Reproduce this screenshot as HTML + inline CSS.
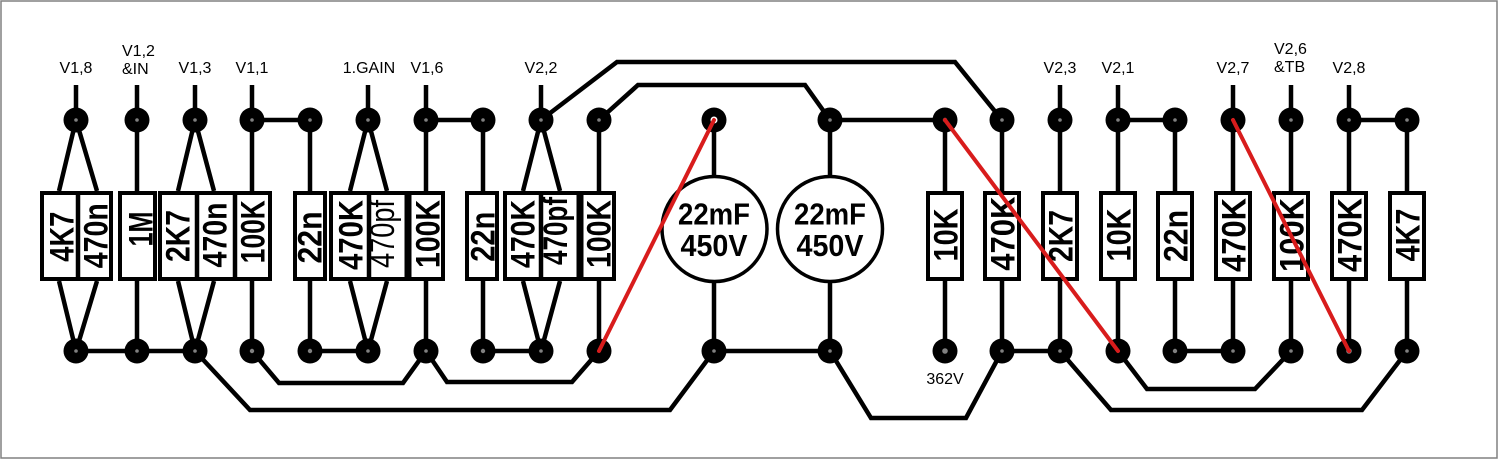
<!DOCTYPE html>
<html><head><meta charset="utf-8"><style>
html,body{margin:0;padding:0;background:#fff;}
svg{display:block;}
text{font-family:"Liberation Sans",Arial,sans-serif;}
.lb{font-size:16px;fill:#000;}
.rv{font-size:34px;font-weight:bold;fill:#000;}
.rr{font-size:34px;font-weight:normal;fill:#000;}
.cp{font-size:31px;font-weight:bold;fill:#000;}
</style></head><body>
<svg width="1500" height="459" viewBox="0 0 1500 459" xmlns="http://www.w3.org/2000/svg">
<rect x="0" y="0" width="1500" height="459" fill="#fff"/>
<rect x="1" y="1" width="1496" height="457" fill="none" stroke="#808080" stroke-width="1.5"/>

<g class="lb" text-anchor="middle">
<text x="76" y="73">V1,8</text>
<text x="195" y="73">V1,3</text>
<text x="252" y="73">V1,1</text>
<text x="369" y="73">1.GAIN</text>
<text x="427" y="73">V1,6</text>
<text x="541" y="73">V2,2</text>
<text x="1060" y="73">V2,3</text>
<text x="1118" y="73">V2,1</text>
<text x="1233" y="73">V2,7</text>
<text x="1349" y="73">V2,8</text>
</g>
<g class="lb">
<text x="122" y="56">V1,2</text>
<text x="122" y="74">&amp;IN</text>
<text x="1274" y="54">V2,6</text>
<text x="1274" y="72">&amp;TB</text>
</g>
<text class="lb" x="945" y="384" text-anchor="middle">362V</text>

<g stroke="#000" stroke-width="4.5" fill="none" stroke-linejoin="miter" stroke-linecap="butt">
<path d="M76 85V120M137 85V120M195 85V120M252 85V120M368 85V120M426 85V120M541 85V120M1060 85V120M1118 85V120M1233 85V120M1291 85V120M1349 85V120"/>
<path d="M137 120V191M252 120V191M310 120V191M426 120V191M483 120V191M599 120V191M945 120V191M1002 120V191M1060 120V191M1118 120V191M1175 120V191M1233 120V191M1291 120V191M1349 120V191M1407 120V191"/>
<path d="M137 281V351M252 281V351M310 281V351M426 281V351M483 281V351M599 281V351M945 281V351M1002 281V351M1060 281V351M1118 281V351M1175 281V351M1233 281V351M1291 281V351M1349 281V351M1407 281V351"/>
<path d="M76 120L59 191M76 120L97 191M195 120L178 191M195 120L214 191M368 120L350 191M368 120L387 191M541 120L523 191M541 120L560 191"/>
<path d="M76 351L59 281M76 351L97 281M195 351L178 281M195 351L214 281M368 351L350 281M368 351L387 281M541 351L523 281M541 351L560 281"/>
<path d="M714 120V175M830 120V175M714 283V351M830 283V351"/>
<path d="M252 120H310M426 120H483M830 120H945M1118 120H1175M1349 120H1407"/>
<path d="M76 351H195M310 351H368M483 351H541M714 351H830M1002 351H1060M1175 351H1233"/>
<polyline points="541,120 617,62 955,62 1002,120"/>
<polyline points="599,120 638,85 805,85 830,120"/>
<polyline points="195,351 250,410 670,410 714,351"/>
<polyline points="252,351 279,383 403,383 426,351"/>
<polyline points="426,351 447,382 572,382 599,351"/>
<polyline points="830,351 871,418 966,418 1002,351"/>
<polyline points="1060,351 1111,410 1362,410 1407,351"/>
<polyline points="1118,351 1147,389 1255,389 1291,351"/>
</g>

<g fill="#fff" stroke="#000" stroke-width="4">
<rect x="42" y="193" width="69" height="86"/>
<rect x="120" y="193" width="35" height="86"/>
<rect x="160" y="193" width="110" height="86"/>
<rect x="295" y="193" width="30" height="86"/>
<rect x="331" y="193" width="112" height="86"/>
<rect x="467" y="193" width="30" height="86"/>
<rect x="505" y="193" width="109" height="86"/>
<rect x="928" y="193" width="34" height="86"/>
<rect x="985" y="193" width="34" height="86"/>
<rect x="1043" y="193" width="34" height="86"/>
<rect x="1101" y="193" width="34" height="86"/>
<rect x="1158" y="193" width="34" height="86"/>
<rect x="1216" y="193" width="34" height="86"/>
<rect x="1274" y="193" width="34" height="86"/>
<rect x="1332" y="193" width="34" height="86"/>
<rect x="1390" y="193" width="34" height="86"/>
</g>
<g stroke="#000" fill="none">
<path stroke-width="4.5" d="M78 191V281M197 191V281M235 191V281M369 191V281M541 191V281"/>
<path stroke-width="7" d="M408 191V281M580 191V281"/>
</g>

<g class="rv" text-anchor="middle">
<text transform="translate(73.5,236.7) rotate(-90)" textLength="50" lengthAdjust="spacingAndGlyphs">4K7</text>
<text transform="translate(107.5,235.7) rotate(-90)" textLength="65" lengthAdjust="spacingAndGlyphs">470n</text>
<text transform="translate(152.5,229) rotate(-90)" textLength="35" lengthAdjust="spacingAndGlyphs">1M</text>
<text transform="translate(189.5,236) rotate(-90)" textLength="52" lengthAdjust="spacingAndGlyphs">2K7</text>
<text transform="translate(226.5,235) rotate(-90)" textLength="65" lengthAdjust="spacingAndGlyphs">470n</text>
<text transform="translate(264.5,231.7) rotate(-90)" textLength="63" lengthAdjust="spacingAndGlyphs">100K</text>
<text transform="translate(321.5,237.5) rotate(-90)" textLength="52" lengthAdjust="spacingAndGlyphs">22n</text>
<text transform="translate(362.5,235) rotate(-90)" textLength="70" lengthAdjust="spacingAndGlyphs">470K</text>
<text transform="translate(439.5,234) rotate(-90)" textLength="68" lengthAdjust="spacingAndGlyphs">100K</text>
<text transform="translate(494.5,236.7) rotate(-90)" textLength="50" lengthAdjust="spacingAndGlyphs">22n</text>
<text transform="translate(534.5,234) rotate(-90)" textLength="68" lengthAdjust="spacingAndGlyphs">470K</text>
<text transform="translate(567,231) rotate(-90)" textLength="68" lengthAdjust="spacingAndGlyphs">470pf</text>
<text transform="translate(610.5,234) rotate(-90)" textLength="68" lengthAdjust="spacingAndGlyphs">100K</text>
<text transform="translate(957.5,235) rotate(-90)" textLength="53" lengthAdjust="spacingAndGlyphs">10K</text>
<text transform="translate(1014.5,233.7) rotate(-90)" textLength="74" lengthAdjust="spacingAndGlyphs">470K</text>
<text transform="translate(1072.5,236) rotate(-90)" textLength="52" lengthAdjust="spacingAndGlyphs">2K7</text>
<text transform="translate(1130.5,235) rotate(-90)" textLength="53" lengthAdjust="spacingAndGlyphs">10K</text>
<text transform="translate(1187.5,236) rotate(-90)" textLength="52" lengthAdjust="spacingAndGlyphs">22n</text>
<text transform="translate(1245.5,235) rotate(-90)" textLength="74" lengthAdjust="spacingAndGlyphs">470K</text>
<text transform="translate(1303.5,235) rotate(-90)" textLength="74" lengthAdjust="spacingAndGlyphs">100K</text>
<text transform="translate(1361.5,235) rotate(-90)" textLength="74" lengthAdjust="spacingAndGlyphs">470K</text>
<text transform="translate(1419.5,235) rotate(-90)" textLength="53" lengthAdjust="spacingAndGlyphs">4K7</text>
</g>
<text class="rr" text-anchor="middle" transform="translate(394,234) rotate(-90)" textLength="68" lengthAdjust="spacingAndGlyphs">470pf</text>

<g fill="#fff" stroke="#000" stroke-width="3.5">
<circle cx="714.5" cy="229" r="52.5"/>
<circle cx="830" cy="229" r="52.5"/>
</g>
<g class="cp" text-anchor="middle">
<text x="714" y="224.5" textLength="72" lengthAdjust="spacingAndGlyphs">22mF</text>
<text x="714" y="256" textLength="67" lengthAdjust="spacingAndGlyphs">450V</text>
<text x="830" y="224.5" textLength="72" lengthAdjust="spacingAndGlyphs">22mF</text>
<text x="830" y="256" textLength="67" lengthAdjust="spacingAndGlyphs">450V</text>
</g>

<g fill="#000">
<circle cx="76" cy="120" r="12.5"/><circle cx="137" cy="120" r="12.5"/><circle cx="195" cy="120" r="12.5"/><circle cx="252" cy="120" r="12.5"/><circle cx="310" cy="120" r="12.5"/><circle cx="368" cy="120" r="12.5"/><circle cx="426" cy="120" r="12.5"/><circle cx="483" cy="120" r="12.5"/><circle cx="541" cy="120" r="12.5"/><circle cx="599" cy="120" r="12.5"/><circle cx="714" cy="120" r="12.5"/><circle cx="830" cy="120" r="12.5"/><circle cx="945" cy="120" r="12.5"/><circle cx="1002" cy="120" r="12.5"/><circle cx="1060" cy="120" r="12.5"/><circle cx="1118" cy="120" r="12.5"/><circle cx="1175" cy="120" r="12.5"/><circle cx="1233" cy="120" r="12.5"/><circle cx="1291" cy="120" r="12.5"/><circle cx="1349" cy="120" r="12.5"/><circle cx="1407" cy="120" r="12.5"/>
<circle cx="76" cy="351" r="12.5"/><circle cx="137" cy="351" r="12.5"/><circle cx="195" cy="351" r="12.5"/><circle cx="252" cy="351" r="12.5"/><circle cx="310" cy="351" r="12.5"/><circle cx="368" cy="351" r="12.5"/><circle cx="426" cy="351" r="12.5"/><circle cx="483" cy="351" r="12.5"/><circle cx="541" cy="351" r="12.5"/><circle cx="599" cy="351" r="12.5"/><circle cx="714" cy="351" r="12.5"/><circle cx="830" cy="351" r="12.5"/><circle cx="945" cy="351" r="12.5"/><circle cx="1002" cy="351" r="12.5"/><circle cx="1060" cy="351" r="12.5"/><circle cx="1118" cy="351" r="12.5"/><circle cx="1175" cy="351" r="12.5"/><circle cx="1233" cy="351" r="12.5"/><circle cx="1291" cy="351" r="12.5"/><circle cx="1349" cy="351" r="12.5"/><circle cx="1407" cy="351" r="12.5"/>
</g>
<g fill="#fff" opacity="0.5">
<circle cx="76" cy="120" r="1.8"/><circle cx="137" cy="120" r="1.8"/><circle cx="195" cy="120" r="1.8"/><circle cx="252" cy="120" r="1.8"/><circle cx="310" cy="120" r="1.8"/><circle cx="368" cy="120" r="1.8"/><circle cx="426" cy="120" r="1.8"/><circle cx="483" cy="120" r="1.8"/><circle cx="541" cy="120" r="1.8"/><circle cx="599" cy="120" r="1.8"/><circle cx="830" cy="120" r="1.8"/><circle cx="945" cy="120" r="2.2"/><circle cx="1002" cy="120" r="1.8"/><circle cx="1060" cy="120" r="1.8"/><circle cx="1118" cy="120" r="1.8"/><circle cx="1175" cy="120" r="1.8"/><circle cx="1233" cy="120" r="1.8"/><circle cx="1291" cy="120" r="1.8"/><circle cx="1349" cy="120" r="1.8"/><circle cx="1407" cy="120" r="1.8"/>
<circle cx="76" cy="351" r="1.8"/><circle cx="137" cy="351" r="1.8"/><circle cx="195" cy="351" r="1.8"/><circle cx="252" cy="351" r="2.2"/><circle cx="310" cy="351" r="2.2"/><circle cx="368" cy="351" r="1.8"/><circle cx="426" cy="351" r="1.8"/><circle cx="483" cy="351" r="2.2"/><circle cx="541" cy="351" r="1.8"/><circle cx="599" cy="351" r="1.8"/><circle cx="714" cy="351" r="1.8"/><circle cx="830" cy="351" r="1.8"/><circle cx="945" cy="351" r="2.8"/><circle cx="1002" cy="351" r="1.8"/><circle cx="1060" cy="351" r="1.8"/><circle cx="1118" cy="351" r="1.8"/><circle cx="1175" cy="351" r="2.2"/><circle cx="1233" cy="351" r="1.8"/><circle cx="1291" cy="351" r="1.8"/><circle cx="1349" cy="351" r="2.8"/><circle cx="1407" cy="351" r="1.8"/>
</g>
<circle cx="714" cy="120" r="3.5" fill="#fff"/>

<g stroke="#d81c1c" stroke-width="4" stroke-linecap="round">
<line x1="599" y1="351" x2="714" y2="120"/>
<line x1="945" y1="120" x2="1118" y2="351"/>
<line x1="1233" y1="120" x2="1349" y2="351"/>
</g>
</svg>
</body></html>
